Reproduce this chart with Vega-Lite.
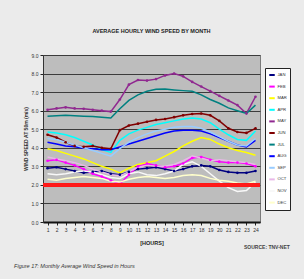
{
  "$schema": "https://vega.github.io/schema/vega-lite/v6.json",
  "autosize": {"type": "none"},
  "width": 217,
  "height": 167,
  "padding": {"left": 43, "top": 55, "right": 44, "bottom": 57},
  "background": "#ebebeb",
  "title": {"text": "AVERAGE HOURLY WIND SPEED BY MONTH", "fontSize": 5.5, "fontWeight": "bold", "font": "Liberation Sans", "color": "#222", "offset": 19, "anchor": "middle"},
  "config": {
    "view": {"fill": "#bdbdbd", "stroke": "#7a7a7a"},
    "font": "Liberation Sans"
  },
  "datasets": {
    "wind": [
      {"m":"JAN","h":1,"v":2.9},{"m":"JAN","h":2,"v":2.95},{"m":"JAN","h":3,"v":2.85},{"m":"JAN","h":4,"v":2.75},{"m":"JAN","h":5,"v":2.65},{"m":"JAN","h":6,"v":2.7},{"m":"JAN","h":7,"v":2.75},{"m":"JAN","h":8,"v":2.6},{"m":"JAN","h":9,"v":2.55},{"m":"JAN","h":10,"v":2.7},{"m":"JAN","h":11,"v":2.85},{"m":"JAN","h":12,"v":2.9},{"m":"JAN","h":13,"v":2.95},{"m":"JAN","h":14,"v":2.85},{"m":"JAN","h":15,"v":2.75},{"m":"JAN","h":16,"v":2.85},{"m":"JAN","h":17,"v":3.0},{"m":"JAN","h":18,"v":3.05},{"m":"JAN","h":19,"v":3.0},{"m":"JAN","h":20,"v":2.8},{"m":"JAN","h":21,"v":2.7},{"m":"JAN","h":22,"v":2.65},{"m":"JAN","h":23,"v":2.65},{"m":"JAN","h":24,"v":2.75},
      {"m":"FEB","h":1,"v":3.3},{"m":"FEB","h":2,"v":3.35},{"m":"FEB","h":3,"v":3.2},{"m":"FEB","h":4,"v":3.05},{"m":"FEB","h":5,"v":2.85},{"m":"FEB","h":6,"v":2.6},{"m":"FEB","h":7,"v":2.45},{"m":"FEB","h":8,"v":2.25},{"m":"FEB","h":9,"v":2.05},{"m":"FEB","h":10,"v":2.55},{"m":"FEB","h":11,"v":3.0},{"m":"FEB","h":12,"v":3.15},{"m":"FEB","h":13,"v":3.05},{"m":"FEB","h":14,"v":2.95},{"m":"FEB","h":15,"v":3.0},{"m":"FEB","h":16,"v":3.15},{"m":"FEB","h":17,"v":3.45},{"m":"FEB","h":18,"v":3.5},{"m":"FEB","h":19,"v":3.35},{"m":"FEB","h":20,"v":3.25},{"m":"FEB","h":21,"v":3.2},{"m":"FEB","h":22,"v":3.2},{"m":"FEB","h":23,"v":3.15},{"m":"FEB","h":24,"v":3.0},
      {"m":"MAR","h":1,"v":3.95},{"m":"MAR","h":2,"v":3.85},{"m":"MAR","h":3,"v":3.7},{"m":"MAR","h":4,"v":3.55},{"m":"MAR","h":5,"v":3.4},{"m":"MAR","h":6,"v":3.2},{"m":"MAR","h":7,"v":3.0},{"m":"MAR","h":8,"v":2.85},{"m":"MAR","h":9,"v":2.65},{"m":"MAR","h":10,"v":2.9},{"m":"MAR","h":11,"v":3.1},{"m":"MAR","h":12,"v":3.2},{"m":"MAR","h":13,"v":3.3},{"m":"MAR","h":14,"v":3.55},{"m":"MAR","h":15,"v":3.8},{"m":"MAR","h":16,"v":4.1},{"m":"MAR","h":17,"v":4.35},{"m":"MAR","h":18,"v":4.55},{"m":"MAR","h":19,"v":4.45},{"m":"MAR","h":20,"v":4.2},{"m":"MAR","h":21,"v":4.0},{"m":"MAR","h":22,"v":3.85},{"m":"MAR","h":23,"v":3.75},{"m":"MAR","h":24,"v":3.6},
      {"m":"APR","h":1,"v":4.85},{"m":"APR","h":2,"v":4.8},{"m":"APR","h":3,"v":4.7},{"m":"APR","h":4,"v":4.55},{"m":"APR","h":5,"v":4.35},{"m":"APR","h":6,"v":4.15},{"m":"APR","h":7,"v":3.9},{"m":"APR","h":8,"v":3.75},{"m":"APR","h":9,"v":4.4},{"m":"APR","h":10,"v":4.75},{"m":"APR","h":11,"v":4.95},{"m":"APR","h":12,"v":5.1},{"m":"APR","h":13,"v":5.25},{"m":"APR","h":14,"v":5.35},{"m":"APR","h":15,"v":5.45},{"m":"APR","h":16,"v":5.55},{"m":"APR","h":17,"v":5.6},{"m":"APR","h":18,"v":5.55},{"m":"APR","h":19,"v":5.35},{"m":"APR","h":20,"v":5.0},{"m":"APR","h":21,"v":4.7},{"m":"APR","h":22,"v":4.45},{"m":"APR","h":23,"v":4.4},{"m":"APR","h":24,"v":4.9},
      {"m":"MAY","h":1,"v":6.05},{"m":"MAY","h":2,"v":6.12},{"m":"MAY","h":3,"v":6.18},{"m":"MAY","h":4,"v":6.12},{"m":"MAY","h":5,"v":6.1},{"m":"MAY","h":6,"v":6.05},{"m":"MAY","h":7,"v":6.0},{"m":"MAY","h":8,"v":5.95},{"m":"MAY","h":9,"v":6.6},{"m":"MAY","h":10,"v":7.4},{"m":"MAY","h":11,"v":7.65},{"m":"MAY","h":12,"v":7.62},{"m":"MAY","h":13,"v":7.7},{"m":"MAY","h":14,"v":7.9},{"m":"MAY","h":15,"v":8.0},{"m":"MAY","h":16,"v":7.85},{"m":"MAY","h":17,"v":7.55},{"m":"MAY","h":18,"v":7.3},{"m":"MAY","h":19,"v":7.05},{"m":"MAY","h":20,"v":6.8},{"m":"MAY","h":21,"v":6.55},{"m":"MAY","h":22,"v":6.3},{"m":"MAY","h":23,"v":5.85},{"m":"MAY","h":24,"v":6.75},
      {"m":"JUN","h":1,"v":4.7},{"m":"JUN","h":2,"v":4.55},{"m":"JUN","h":3,"v":4.3},{"m":"JUN","h":4,"v":4.1},{"m":"JUN","h":5,"v":4.05},{"m":"JUN","h":6,"v":4.1},{"m":"JUN","h":7,"v":4.0},{"m":"JUN","h":8,"v":3.95},{"m":"JUN","h":9,"v":4.95},{"m":"JUN","h":10,"v":5.2},{"m":"JUN","h":11,"v":5.3},{"m":"JUN","h":12,"v":5.4},{"m":"JUN","h":13,"v":5.5},{"m":"JUN","h":14,"v":5.55},{"m":"JUN","h":15,"v":5.65},{"m":"JUN","h":16,"v":5.75},{"m":"JUN","h":17,"v":5.82},{"m":"JUN","h":18,"v":5.85},{"m":"JUN","h":19,"v":5.75},{"m":"JUN","h":20,"v":5.45},{"m":"JUN","h":21,"v":5.05},{"m":"JUN","h":22,"v":4.85},{"m":"JUN","h":23,"v":4.8},{"m":"JUN","h":24,"v":5.05},
      {"m":"JUL","h":1,"v":5.7},{"m":"JUL","h":2,"v":5.72},{"m":"JUL","h":3,"v":5.75},{"m":"JUL","h":4,"v":5.72},{"m":"JUL","h":5,"v":5.7},{"m":"JUL","h":6,"v":5.68},{"m":"JUL","h":7,"v":5.65},{"m":"JUL","h":8,"v":5.6},{"m":"JUL","h":9,"v":6.1},{"m":"JUL","h":10,"v":6.55},{"m":"JUL","h":11,"v":6.85},{"m":"JUL","h":12,"v":7.05},{"m":"JUL","h":13,"v":7.15},{"m":"JUL","h":14,"v":7.17},{"m":"JUL","h":15,"v":7.12},{"m":"JUL","h":16,"v":7.08},{"m":"JUL","h":17,"v":7.05},{"m":"JUL","h":18,"v":6.85},{"m":"JUL","h":19,"v":6.6},{"m":"JUL","h":20,"v":6.4},{"m":"JUL","h":21,"v":6.15},{"m":"JUL","h":22,"v":6.0},{"m":"JUL","h":23,"v":5.85},{"m":"JUL","h":24,"v":6.3},
      {"m":"AUG","h":1,"v":4.3},{"m":"AUG","h":2,"v":4.2},{"m":"AUG","h":3,"v":4.1},{"m":"AUG","h":4,"v":4.05},{"m":"AUG","h":5,"v":3.98},{"m":"AUG","h":6,"v":3.95},{"m":"AUG","h":7,"v":3.9},{"m":"AUG","h":8,"v":3.9},{"m":"AUG","h":9,"v":4.05},{"m":"AUG","h":10,"v":4.2},{"m":"AUG","h":11,"v":4.35},{"m":"AUG","h":12,"v":4.5},{"m":"AUG","h":13,"v":4.65},{"m":"AUG","h":14,"v":4.8},{"m":"AUG","h":15,"v":4.9},{"m":"AUG","h":16,"v":4.95},{"m":"AUG","h":17,"v":4.95},{"m":"AUG","h":18,"v":4.9},{"m":"AUG","h":19,"v":4.75},{"m":"AUG","h":20,"v":4.55},{"m":"AUG","h":21,"v":4.35},{"m":"AUG","h":22,"v":4.15},{"m":"AUG","h":23,"v":4.05},{"m":"AUG","h":24,"v":4.4},
      {"m":"SEP","h":1,"v":4.5},{"m":"SEP","h":2,"v":4.45},{"m":"SEP","h":3,"v":4.3},{"m":"SEP","h":4,"v":4.15},{"m":"SEP","h":5,"v":4.0},{"m":"SEP","h":6,"v":3.85},{"m":"SEP","h":7,"v":3.7},{"m":"SEP","h":8,"v":3.55},{"m":"SEP","h":9,"v":3.95},{"m":"SEP","h":10,"v":4.3},{"m":"SEP","h":11,"v":4.55},{"m":"SEP","h":12,"v":4.75},{"m":"SEP","h":13,"v":4.9},{"m":"SEP","h":14,"v":5.0},{"m":"SEP","h":15,"v":5.1},{"m":"SEP","h":16,"v":5.15},{"m":"SEP","h":17,"v":5.15},{"m":"SEP","h":18,"v":5.05},{"m":"SEP","h":19,"v":4.85},{"m":"SEP","h":20,"v":4.6},{"m":"SEP","h":21,"v":4.35},{"m":"SEP","h":22,"v":4.15},{"m":"SEP","h":23,"v":4.1},{"m":"SEP","h":24,"v":4.5},
      {"m":"OCT","h":1,"v":3.5},{"m":"OCT","h":2,"v":3.4},{"m":"OCT","h":3,"v":3.3},{"m":"OCT","h":4,"v":3.2},{"m":"OCT","h":5,"v":3.05},{"m":"OCT","h":6,"v":2.85},{"m":"OCT","h":7,"v":2.7},{"m":"OCT","h":8,"v":2.55},{"m":"OCT","h":9,"v":2.5},{"m":"OCT","h":10,"v":2.7},{"m":"OCT","h":11,"v":2.95},{"m":"OCT","h":12,"v":3.05},{"m":"OCT","h":13,"v":3.0},{"m":"OCT","h":14,"v":3.0},{"m":"OCT","h":15,"v":3.1},{"m":"OCT","h":16,"v":3.3},{"m":"OCT","h":17,"v":3.55},{"m":"OCT","h":18,"v":3.45},{"m":"OCT","h":19,"v":3.3},{"m":"OCT","h":20,"v":3.35},{"m":"OCT","h":21,"v":3.3},{"m":"OCT","h":22,"v":3.25},{"m":"OCT","h":23,"v":3.2},{"m":"OCT","h":24,"v":3.1},
      {"m":"NOV","h":1,"v":2.6},{"m":"NOV","h":2,"v":2.55},{"m":"NOV","h":3,"v":2.6},{"m":"NOV","h":4,"v":2.7},{"m":"NOV","h":5,"v":2.75},{"m":"NOV","h":6,"v":2.7},{"m":"NOV","h":7,"v":2.55},{"m":"NOV","h":8,"v":2.4},{"m":"NOV","h":9,"v":2.35},{"m":"NOV","h":10,"v":2.6},{"m":"NOV","h":11,"v":2.7},{"m":"NOV","h":12,"v":2.55},{"m":"NOV","h":13,"v":2.5},{"m":"NOV","h":14,"v":2.6},{"m":"NOV","h":15,"v":2.75},{"m":"NOV","h":16,"v":3.1},{"m":"NOV","h":17,"v":3.25},{"m":"NOV","h":18,"v":3.0},{"m":"NOV","h":19,"v":2.6},{"m":"NOV","h":20,"v":2.2},{"m":"NOV","h":21,"v":1.85},{"m":"NOV","h":22,"v":1.65},{"m":"NOV","h":23,"v":1.7},{"m":"NOV","h":24,"v":2.15},
      {"m":"DEC","h":1,"v":2.3},{"m":"DEC","h":2,"v":2.25},{"m":"DEC","h":3,"v":2.35},{"m":"DEC","h":4,"v":2.4},{"m":"DEC","h":5,"v":2.45},{"m":"DEC","h":6,"v":2.4},{"m":"DEC","h":7,"v":2.35},{"m":"DEC","h":8,"v":2.2},{"m":"DEC","h":9,"v":2.15},{"m":"DEC","h":10,"v":2.3},{"m":"DEC","h":11,"v":2.4},{"m":"DEC","h":12,"v":2.45},{"m":"DEC","h":13,"v":2.4},{"m":"DEC","h":14,"v":2.35},{"m":"DEC","h":15,"v":2.4},{"m":"DEC","h":16,"v":2.5},{"m":"DEC","h":17,"v":2.55},{"m":"DEC","h":18,"v":2.5},{"m":"DEC","h":19,"v":2.35},{"m":"DEC","h":20,"v":2.25},{"m":"DEC","h":21,"v":2.2},{"m":"DEC","h":22,"v":2.1},{"m":"DEC","h":23,"v":2.05},{"m":"DEC","h":24,"v":2.2}
    ]
  },
  "data": {"name": "wind"},
  "layer": [
    {
      "mark": {"type": "line", "strokeWidth": 1.5},
      "encoding": {
        "x": {"field": "h", "type": "quantitative", "scale": {"domain": [0.5, 24.5], "nice": false},
          "axis": {"values": [1,2,3,4,5,6,7,8,9,10,11,12,13,14,15,16,17,18,19,20,21,22,23,24], "tickCount": 24, "title": "[HOURS]", "titleFontSize": 5.5, "titleFontWeight": "bold", "titleColor": "#222", "titlePadding": 8, "labelFontSize": 5, "labelColor": "#333", "labelOverlap": false, "labelPadding": 2, "tickSize": 3, "tickColor": "#222", "domainColor": "#111", "domainWidth": 2, "grid": false, "labelFlush": false}},
        "y": {"field": "v", "type": "quantitative", "scale": {"domain": [0, 9], "nice": false},
          "axis": {"values": [0,1,2,3,4,5,6,7,8,9], "tickCount": 10, "format": ".1f", "title": "WIND SPEED AT 50m (m/s)", "titleFontSize": 5, "titleFontWeight": "bold", "titleColor": "#333", "titlePadding": 3, "labelFontSize": 5, "labelColor": "#333", "labelPadding": 2, "labelOverlap": false, "tickSize": 3, "tickColor": "#222", "domainColor": "#333", "grid": true, "gridColor": "#3c3c3c", "gridWidth": 1}},
        "color": {"field": "m", "type": "nominal",
          "scale": {"domain": ["JAN","FEB","MAR","APR","MAY","JUN","JUL","AUG","SEP","OCT","NOV","DEC"],
                    "range": ["#000080","#ff00ff","#ffff00","#00ffff","#902890","#800000","#008080","#0000ff","#99ccff","#e8b8e8","#f8f8f8","#ffffcc"]},
          "legend": {"orient": "none", "legendX": 222, "legendY": 13, "title": null, "fillColor": "#ffffff", "strokeColor": "#222", "padding": 3, "symbolType": "stroke", "symbolSize": 30, "symbolStrokeWidth": 2, "labelFontSize": 4.2, "labelColor": "#333", "labelOffset": 1.5, "rowPadding": 3.6}}
      }
    },
    {
      "transform": [{"filter": {"field": "m", "oneOf": ["JAN","FEB","MAY","JUN"]}}],
      "mark": {"type": "point", "filled": true, "size": 7, "opacity": 1},
      "encoding": {
        "x": {"field": "h", "type": "quantitative"},
        "y": {"field": "v", "type": "quantitative"},
        "color": {"field": "m", "type": "nominal", "legend": null}
      }
    },
    {
      "mark": {"type": "rule", "color": "#ff1a1a", "strokeWidth": 2.5},
      "encoding": {"y": {"datum": 2, "type": "quantitative"}}
    },
    {
      "data": {"values": [{"t": "SOURCE: TNV-NET"}]},
      "mark": {"type": "text", "align": "right", "baseline": "middle", "fontSize": 5, "fontWeight": "bold", "color": "#444"},
      "encoding": {"text": {"field": "t"}, "x": {"datum": 27.8, "type": "quantitative"}, "y": {"datum": -1.35, "type": "quantitative"}}
    },
    {
      "data": {"values": [{"t": "Figure 17: Monthly Average Wind Speed in Hours"}]},
      "mark": {"type": "text", "align": "left", "baseline": "middle", "fontSize": 5.5, "fontStyle": "italic", "color": "#333"},
      "encoding": {"text": {"field": "t"}, "x": {"datum": -2.7, "type": "quantitative"}, "y": {"datum": -2.35, "type": "quantitative"}}
    }
  ]
}
